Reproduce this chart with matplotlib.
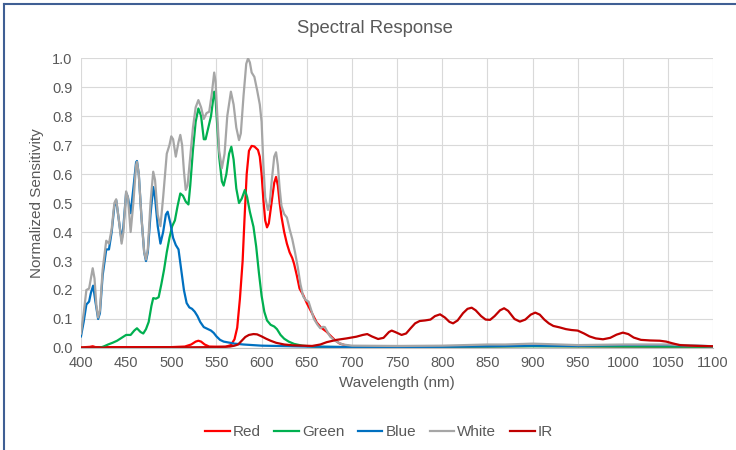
import matplotlib
matplotlib.use("Agg")
import matplotlib.pyplot as plt
from matplotlib.lines import Line2D

plt.rcParams['font.family'] = ['Liberation Sans', 'DejaVu Sans']

# wavelength (nm) / normalized sensitivity
red_wl = [400, 410, 413, 416, 450, 500, 515, 522, 527, 530, 533, 537, 542, 560, 566, 570, 573, 576,
          579, 581, 583.5, 586, 589, 592, 596, 598, 600, 602, 604, 606, 608, 611, 614, 616, 618, 620,
          622, 625, 628, 631, 634, 636, 639, 642, 646, 650, 655, 661, 666, 672, 677, 681, 686, 692,
          700, 800, 900, 1000, 1100]
red_val = [0.002, 0.004, 0.006, 0.003, 0.003, 0.003, 0.005, 0.012, 0.022, 0.025, 0.022, 0.012, 0.005,
           0.004, 0.01, 0.03, 0.07, 0.17, 0.30, 0.44, 0.60, 0.68, 0.697, 0.695, 0.683, 0.66, 0.60,
           0.51, 0.44, 0.416, 0.43, 0.50, 0.57, 0.59, 0.56, 0.50, 0.453, 0.40, 0.36, 0.33, 0.31, 0.29,
           0.25, 0.205, 0.183, 0.155, 0.125, 0.088, 0.07, 0.056, 0.04, 0.028, 0.016, 0.01, 0.005,
           0.004, 0.007, 0.005, 0.004]

green_wl = [400, 420, 425, 430, 435, 440, 445, 450, 455, 459, 462, 466, 469, 472, 475, 478, 480, 483,
            486, 489, 492, 495, 498, 501, 504, 507, 510, 513, 516, 519, 521, 524, 527, 530, 533, 536,
            538, 541, 544, 547.5, 549, 551, 553, 556, 558, 561, 564, 566.5, 569, 572, 575, 578, 581.5,
            584, 587, 591, 594, 597, 600, 603, 606, 610, 614, 617, 621, 625, 630, 636, 645, 660, 700,
            850, 900, 1000, 1100]
green_val = [0.0, 0.0, 0.005, 0.012, 0.018, 0.025, 0.035, 0.045, 0.045, 0.06, 0.068, 0.055, 0.05,
             0.065, 0.09, 0.145, 0.172, 0.17, 0.175, 0.22, 0.27, 0.33, 0.38, 0.42, 0.44, 0.49, 0.533,
             0.525, 0.505, 0.495, 0.56, 0.683, 0.78, 0.826, 0.80, 0.72, 0.72, 0.76, 0.80, 0.884, 0.86,
             0.76, 0.66, 0.575, 0.56, 0.60, 0.67, 0.694, 0.65, 0.55, 0.50, 0.515, 0.545, 0.52, 0.47,
             0.418, 0.35, 0.26, 0.18, 0.125, 0.095, 0.08, 0.074, 0.065, 0.045, 0.032, 0.022, 0.014,
             0.008, 0.004, 0.003, 0.005, 0.006, 0.005, 0.004]

blue_wl = [400, 403, 406, 409, 411, 413.5, 416, 419, 421, 424, 428, 431, 434, 437, 439, 442, 445, 447,
           450, 452, 455, 458, 461, 462, 464, 467, 470, 472, 474, 477, 480, 482, 485, 488, 491, 494,
           496, 499, 502, 505, 508, 511, 514, 517, 520, 523, 526, 529, 532, 536, 540, 544, 547, 550,
           554, 558, 565, 570, 580, 590, 600, 650, 700, 800, 850, 900, 950, 1000, 1050, 1100]
blue_val = [0.04, 0.09, 0.15, 0.16, 0.19, 0.215, 0.16, 0.10, 0.12, 0.25, 0.34, 0.34, 0.40, 0.49, 0.51,
            0.44, 0.37, 0.42, 0.535, 0.52, 0.465, 0.55, 0.64, 0.645, 0.60, 0.45, 0.33, 0.30, 0.33,
            0.46, 0.555, 0.52, 0.42, 0.36, 0.40, 0.46, 0.47, 0.43, 0.38, 0.355, 0.34, 0.27, 0.20,
            0.155, 0.14, 0.135, 0.125, 0.11, 0.09, 0.072, 0.066, 0.06, 0.052, 0.04, 0.028, 0.022,
            0.018, 0.015, 0.012, 0.01, 0.008, 0.005, 0.003, 0.004, 0.006, 0.008, 0.007, 0.01, 0.01,
            0.006]

white_wl = [400, 403, 406, 409, 411, 413, 415, 417, 419, 421, 424, 428, 431, 434, 437, 439, 442, 445,
            447, 450, 452, 455, 458, 461, 462, 464, 467, 470, 472, 474, 477, 480, 482, 485, 488, 491,
            495, 498, 500, 502, 505, 508, 510, 512, 514, 516, 518, 521, 524, 527, 530, 533, 536, 539,
            542, 545, 547.5, 549, 551, 553, 556, 559, 562, 566, 569, 572, 575, 577, 580, 583, 585, 587,
            589, 592, 595, 598, 600, 602, 604, 607, 609, 611, 614, 616, 618, 620, 622, 625, 628, 631,
            634, 637, 640, 643, 646, 649, 652, 655, 658, 662, 665, 668, 670, 673, 676, 680, 684, 690,
            700, 750, 800, 850, 870, 900, 950, 1000, 1050, 1100]
white_val = [0.05, 0.12, 0.20, 0.205, 0.24, 0.275, 0.24, 0.15, 0.105, 0.13, 0.27, 0.37, 0.36, 0.41,
             0.50, 0.513, 0.44, 0.36, 0.40, 0.54, 0.52, 0.40, 0.50, 0.63, 0.642, 0.60, 0.45, 0.33,
             0.305, 0.34, 0.50, 0.608, 0.58, 0.46, 0.42, 0.52, 0.67, 0.70, 0.73, 0.72, 0.66, 0.71,
             0.735, 0.70, 0.61, 0.545, 0.56, 0.66, 0.76, 0.83, 0.855, 0.83, 0.79, 0.81, 0.815, 0.88,
             0.95, 0.92, 0.80, 0.68, 0.62, 0.67, 0.80, 0.884, 0.84, 0.76, 0.717, 0.74, 0.87, 0.98,
             0.999, 0.985, 0.95, 0.935, 0.89, 0.84, 0.78, 0.63, 0.52, 0.476, 0.50, 0.57, 0.66, 0.675,
             0.63, 0.55, 0.49, 0.462, 0.45, 0.41, 0.375, 0.33, 0.28, 0.22, 0.178, 0.165, 0.16, 0.13,
             0.10, 0.08, 0.068, 0.073, 0.072, 0.055, 0.039, 0.028, 0.02, 0.012, 0.008, 0.007, 0.008,
             0.012, 0.012, 0.015, 0.01, 0.012, 0.012, 0.006]

ir_wl = [400, 500, 550, 565, 570, 574, 578, 582, 586, 591, 595, 600, 605, 610, 616, 625, 635, 646,
         656, 665, 672, 683, 694, 705, 712, 717, 722, 729, 735, 741, 744, 748, 755, 760, 765, 770,
         775, 781, 787, 792, 797.6, 803, 808, 812, 817, 823, 828, 832.6, 837, 843, 848, 853, 858,
         864, 868.5, 873, 880, 886, 892, 898, 903, 908, 913, 918, 923, 930, 937, 943, 950, 957, 963,
         970, 978, 986, 993, 1000, 1006, 1012, 1020, 1030, 1041, 1048, 1055, 1063, 1075, 1085, 1100]
ir_val = [0.001, 0.002, 0.003, 0.005, 0.008, 0.012, 0.025, 0.038, 0.045, 0.048, 0.047, 0.04, 0.032,
          0.025, 0.018, 0.012, 0.009, 0.008, 0.007, 0.012, 0.02, 0.028, 0.033, 0.039, 0.045, 0.048,
          0.04, 0.031, 0.035, 0.055, 0.06, 0.055, 0.045, 0.05, 0.068, 0.085, 0.093, 0.095, 0.098,
          0.11, 0.116, 0.105, 0.09, 0.085, 0.095, 0.12, 0.135, 0.139, 0.13, 0.11, 0.098, 0.097, 0.11,
          0.13, 0.137, 0.128, 0.10, 0.091, 0.098, 0.115, 0.122, 0.115, 0.098, 0.085, 0.076, 0.071,
          0.065, 0.062, 0.06, 0.05, 0.04, 0.033, 0.03, 0.035, 0.046, 0.053, 0.048, 0.036, 0.028,
          0.026, 0.025, 0.022, 0.016, 0.01, 0.008, 0.007, 0.006]

series = [
    ("Red", red_wl, red_val, "#ff0000"),
    ("Green", green_wl, green_val, "#00b050"),
    ("Blue", blue_wl, blue_val, "#0070c0"),
    ("White", white_wl, white_val, "#a6a6a6"),
    ("IR", ir_wl, ir_val, "#c00000"),
]

text_color = "#595959"

fig = plt.figure(figsize=(7.36, 4.5), dpi=100)
ax = fig.add_axes([0.110, 0.2267, 0.859, 0.6443])

for name, wl, val, color in series:
    ax.plot(wl, val, color=color, lw=1.6, label=name, solid_joinstyle="round")

ax.set_xlim(400, 1100)
ax.set_ylim(0, 1.0)
ax.set_xticks(range(400, 1101, 50))
ax.set_yticks([i / 10 for i in range(11)])
ax.set_yticklabels([f"{i / 10:.1f}" for i in range(11)])
ax.grid(True, color="#d9d9d9", lw=0.8)
ax.set_axisbelow(True)
for side in ["top", "right", "left"]:
    ax.spines[side].set_visible(False)
ax.spines["bottom"].set_color("#bfbfbf")
ax.tick_params(length=0, labelsize=10.5, colors=text_color, pad=6)

ax.set_xlabel("Wavelength (nm)", fontsize=11, color=text_color, labelpad=4)
ax.set_ylabel("Normalized Sensitivity", fontsize=11, color=text_color, labelpad=6)
fig.text(0.51, 0.937, "Spectral Response", ha="center", va="center", fontsize=13.3, color=text_color)

fig.legend(loc="center", bbox_to_anchor=(0.515, 0.04), ncol=5, frameon=False, fontsize=11,
           handlelength=1.6, handletextpad=0.2, columnspacing=0.9, labelcolor=text_color)

# screenshot frame on top and left
fig.add_artist(Line2D([0.005, 1.0], [0.992, 0.992], color="#3f5f94", lw=1.5, transform=fig.transFigure))
fig.add_artist(Line2D([0.005, 0.005], [0.0, 0.992], color="#3f5f94", lw=1.5, transform=fig.transFigure))

fig.savefig("out.png", dpi=100)
